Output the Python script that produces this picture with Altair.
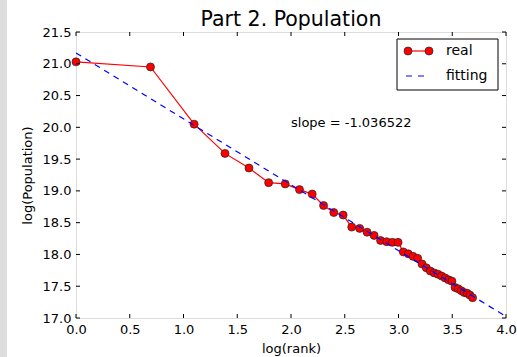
import altair as alt
import pandas as pd

# ---- data ----
log_rank = [0.0, 0.693, 1.099, 1.386, 1.609, 1.792, 1.946, 2.079, 2.197, 2.303,
            2.398, 2.485, 2.565, 2.639, 2.708, 2.773, 2.833, 2.890, 2.944, 2.996,
            3.045, 3.091, 3.135, 3.178, 3.219, 3.258, 3.296, 3.332, 3.367, 3.401,
            3.434, 3.466, 3.497, 3.526, 3.555, 3.584, 3.611, 3.638, 3.664, 3.689]
log_pop = [21.03, 20.95, 20.05, 19.59, 19.36, 19.13, 19.11, 19.02, 18.95, 18.77,
           18.66, 18.62, 18.43, 18.41, 18.35, 18.30, 18.22, 18.20, 18.19, 18.19,
           18.04, 18.01, 17.97, 17.94, 17.85, 17.79, 17.74, 17.71, 17.69, 17.66,
           17.63, 17.60, 17.58, 17.48, 17.46, 17.43, 17.40, 17.39, 17.36, 17.32]
slope = -1.036522
intercept = 21.17
fit_x = [0.0, 4.0]
fit_y = [intercept + slope * v for v in fit_x]
x_ticks = [0.0, 0.5, 1.0, 1.5, 2.0, 2.5, 3.0, 3.5, 4.0]
y_ticks = [17.0, 17.5, 18.0, 18.5, 19.0, 19.5, 20.0, 20.5, 21.0, 21.5]
legend_labels = ["real", "fitting"]
slope_label = [f"slope = {slope:f}"]
title_text = ["Part 2. Population"]

W, H = 430, 286
FONT = "DejaVu Sans"

real_df = pd.DataFrame({"x": log_rank, "y": log_pop})
fit_df = pd.DataFrame({"x": fit_x, "y": fit_y})
xt_df = pd.DataFrame({"v": x_ticks})
yt_df = pd.DataFrame({"v": y_ticks})
slope_df = pd.DataFrame({"x": [2.0], "y": [20.0], "t": slope_label})
one = pd.DataFrame({"a": [0]})

xs = alt.Scale(domain=[0, 4], nice=False, zero=False)
ys = alt.Scale(domain=[17, 21.5], nice=False, zero=False)

x_axis = alt.Axis(values=x_ticks, format=".1f", title="log(rank)", ticks=False,
                  domain=False, grid=False, labelFontSize=13, labelColor="black",
                  labelFont=FONT, labelPadding=5, titleFont=FONT, titleFontSize=13,
                  titleFontWeight="normal", titleColor="black", titlePadding=6,
                  labelFlush=False)
y_axis = alt.Axis(values=y_ticks, format=".1f", title="log(Population)", ticks=False,
                  domain=False, grid=False, labelFontSize=13, labelColor="black",
                  labelFont=FONT, labelPadding=5, titleFont=FONT, titleFontSize=13,
                  titleFontWeight="normal", titleColor="black", titlePadding=8,
                  labelFlush=False)


def X(field):
    return alt.X(field, scale=xs, axis=x_axis)


def Y(field):
    return alt.Y(field, scale=ys, axis=y_axis)


strip = alt.Chart(one).mark_rect(color="#dddddd").encode(
    x=alt.value(-76), x2=alt.value(-69), y=alt.value(-32), y2=alt.value(H + 39))

title_mark = alt.Chart(pd.DataFrame({"t": title_text})).mark_text(
    align="center", baseline="alphabetic", font=FONT, fontSize=20.5, color="black").encode(
    x=alt.value(W / 2), y=alt.value(-6), text="t:N")

real_line = alt.Chart(real_df).mark_line(color="#ff0000", strokeWidth=1.2).encode(
    x=X("x:Q"), y=Y("y:Q"))

real_pts = alt.Chart(real_df).mark_point(
    filled=True, shape="circle", size=64, fill="#ff0000", stroke="#222222",
    strokeWidth=0.7, opacity=1, fillOpacity=1).encode(x=X("x:Q"), y=Y("y:Q"))

fit_line = alt.Chart(fit_df).mark_line(color="#0000ff", strokeWidth=1.2,
                                       strokeDash=[6, 5], clip=True).encode(
    x=X("x:Q"), y=Y("y:Q"))

tick_bottom = alt.Chart(xt_df).mark_rule(color="black", strokeWidth=1).encode(
    x=X("v:Q"), y=alt.value(H), y2=alt.value(H - 4))
tick_top = alt.Chart(xt_df).mark_rule(color="black", strokeWidth=1).encode(
    x=X("v:Q"), y=alt.value(0), y2=alt.value(4))
tick_left = alt.Chart(yt_df).mark_rule(color="black", strokeWidth=1).encode(
    y=Y("v:Q"), x=alt.value(0), x2=alt.value(4))
tick_right = alt.Chart(yt_df).mark_rule(color="black", strokeWidth=1).encode(
    y=Y("v:Q"), x=alt.value(W), x2=alt.value(W - 4))

slope_txt = alt.Chart(slope_df).mark_text(
    align="left", baseline="alphabetic", font=FONT, fontSize=13, color="black").encode(
    x=X("x:Q"), y=Y("y:Q"), text="t:N")

# legend
leg_box = alt.Chart(one).mark_rect(fill="white", stroke="black", strokeWidth=1).encode(
    x=alt.value(321), x2=alt.value(422), y=alt.value(7), y2=alt.value(58))
leg_red = alt.Chart(one).mark_rule(color="#ff0000", strokeWidth=1.2).encode(
    x=alt.value(332), x2=alt.value(353), y=alt.value(19))
leg_pt1 = alt.Chart(one).mark_point(
    filled=True, shape="circle", size=64, fill="#ff0000", stroke="#222222",
    strokeWidth=0.7, opacity=1).encode(x=alt.value(332), y=alt.value(19))
leg_pt2 = alt.Chart(one).mark_point(
    filled=True, shape="circle", size=64, fill="#ff0000", stroke="#222222",
    strokeWidth=0.7, opacity=1).encode(x=alt.value(353), y=alt.value(19))
leg_blue = alt.Chart(one).mark_rule(color="#0000ff", strokeWidth=1.2,
                                    strokeDash=[6, 6]).encode(
    x=alt.value(330), x2=alt.value(354), y=alt.value(44))
leg_t1 = alt.Chart(pd.DataFrame({"t": [legend_labels[0]]})).mark_text(
    align="left", baseline="middle", font=FONT, fontSize=14, color="black").encode(
    x=alt.value(370), y=alt.value(19), text="t:N")
leg_t2 = alt.Chart(pd.DataFrame({"t": [legend_labels[1]]})).mark_text(
    align="left", baseline="middle", font=FONT, fontSize=14, color="black").encode(
    x=alt.value(370), y=alt.value(44), text="t:N")

chart = alt.layer(
    real_line, real_pts, fit_line,
    tick_bottom, tick_top, tick_left, tick_right,
    slope_txt, leg_box, leg_red, leg_pt1, leg_pt2, leg_blue, leg_t1, leg_t2,
    strip, title_mark
).properties(
    width=W, height=H,
    padding={"left": 76, "top": 32, "right": 11, "bottom": 39},
    autosize=alt.AutoSizeParams(type="none"),
).configure_view(stroke="black", strokeWidth=1).configure(background="white")

chart.save("out.html", embed_options={"renderer": "svg", "actions": False})
